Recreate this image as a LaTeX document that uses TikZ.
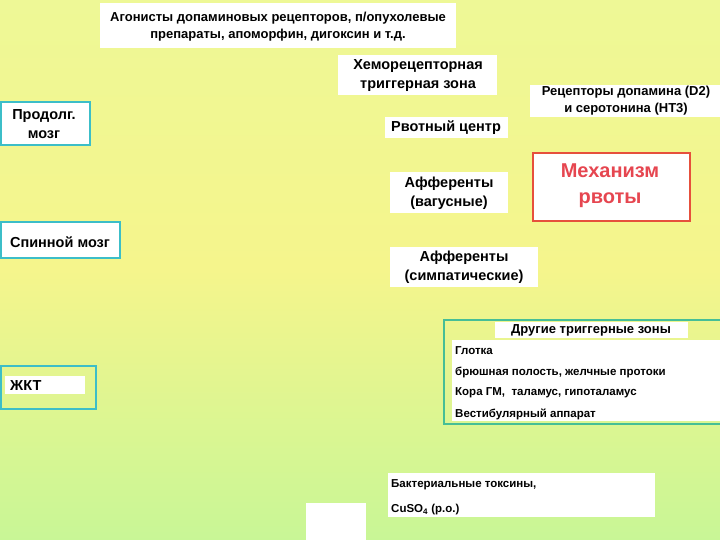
\documentclass[tikz,border=0pt]{standalone}
\usepackage{fontspec}
\setmainfont{Liberation Sans}
\begin{document}
\begin{tikzpicture}[x=1pt,y=-1pt,
 wb/.style={fill=white,draw=none},
 txt/.style={font=\bfseries\fontsize{14.5}{19}\selectfont,align=center,inner sep=0},
 cy/.style={draw={rgb,255:red,60;green,190;blue,200},line width=2pt}]
\useasboundingbox (0,0) rectangle (720,540);
\shade[top color={rgb,255:red,238;green,248;blue,150},bottom color={rgb,255:red,200;green,246;blue,150},middle color={rgb,255:red,245;green,245;blue,140}] (0,0) rectangle (720,540);
% top
\fill[wb] (100,3) rectangle (456,48);
\node[txt,font=\bfseries\fontsize{13}{17}\selectfont] (ag) at (278,27) {Агонисты допаминовых рецепторов, п/опухолевые\\препараты, апоморфин, дигоксин и т.д.};
\fill[wb] (338,55) rectangle (497,95);
\node[txt] (hz) at (418,76) {Хеморецепторная\\триггерная зона};
\fill[wb] (530,85) rectangle (720,117);
\node[txt,font=\bfseries\fontsize{13}{17}\selectfont] (rec) at (626,101) {Рецепторы допамина (D2)\\и серотонина (НТ3)};
\fill[wb] (385,117) rectangle (508,138);
\node[txt] (rc) at (446,128) {Рвотный центр};
\fill[wb] (390,172) rectangle (508,213);
\node[txt] (av) at (449,193) {Афференты\\(вагусные)};
\fill[wb] (390,247) rectangle (538,287);
\node[txt] (as) at (464,267) {Афференты\\(симпатические)};
\draw[draw={rgb,255:red,230;green,80;blue,60},line width=2pt,fill=white] (533,153) rectangle (690,221);
\node[txt,text={rgb,255:red,230;green,70;blue,80},font=\bfseries\fontsize{20}{26}\selectfont] (mech) at (610,186) {Механизм\\рвоты};
\draw[cy,fill=white] (1,102) rectangle (90,145);
\node[txt] (pm) at (44,124) {Продолг.\\мозг};
\draw[cy,fill=white] (1,222) rectangle (120,258);
\node[txt] (sm) at (60,242) {Спинной мозг};
\draw[cy] (1,366) rectangle (96,409);
\fill[wb] (5,376) rectangle (85,394);
\node[txt,anchor=west] (gkt) at (10,386) {ЖКТ};
\draw[draw={rgb,255:red,70;green,190;blue,150},line width=2pt] (444,320) rectangle (722,424);
\fill[wb] (452,340) rectangle (720,421);
\fill[wb] (495,322) rectangle (688,338);
\node[txt,font=\bfseries\fontsize{13}{15}\selectfont] (dz) at (591,330) {Другие триггерные зоны};
\begin{scope}[every node/.style={txt,anchor=west,font=\bfseries\fontsize{11.5}{13}\selectfont}]
\node (g1) at (455,351) {Глотка};
\node (g2) at (455,372) {брюшная полость, желчные протоки};
\node (g3) at (455,393) {Кора ГМ,\ \ таламус, гипоталамус};
\node (g4) at (455,414) {Вестибулярный аппарат};
\fill[wb] (388,473) rectangle (655,517);
\node (bt) at (391,485) {Бактериальные токсины,};
\node (cu) at (391,510) {CuSO\textsubscript{4} (p.o.)};
\end{scope}
\fill[wb] (306,503) rectangle (366,540);
\end{tikzpicture}
\end{document}
